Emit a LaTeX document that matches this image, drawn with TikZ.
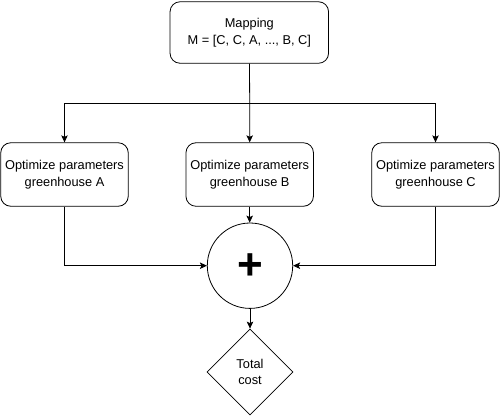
\documentclass[tikz,border=0pt]{standalone}
\usepackage{fontspec}
\setmainfont{Liberation Sans}
\usetikzlibrary{shapes.geometric,arrows.meta}
\begin{document}
\begin{tikzpicture}[x=1pt,y=-1pt,
  every node/.style={font=\fontsize{12.8pt}{16.5pt}\selectfont},
  rbox/.style={draw,rounded corners=10pt,line width=0.8pt,align=center,inner sep=0pt},
  optbox/.style={rbox,minimum width=127.5pt,minimum height=63.5pt},
  conn/.style={line width=0.8pt,-{Stealth[length=7pt,width=6.5pt,inset=1.5pt]}},
  plain/.style={line width=0.8pt}]
\useasboundingbox (0,0) rectangle (500,416);
\node[rbox,minimum width=158.5pt,minimum height=61.5pt] (map) at (249.3,32.5) {Mapping\\M = [C, C, A, ..., B, C]};
\node[optbox] (A) at (64.5,174.5) {Optimize parameters\\greenhouse A};
\node[optbox] (B) at (249.7,174.5) {Optimize parameters\\greenhouse B};
\node[optbox] (C) at (435.5,174.5) {Optimize parameters\\greenhouse C};
\node[draw,circle,line width=0.8pt,minimum size=85.4pt,inner sep=0pt] (sum) at (250,265.7) {};
\node[font=\fontsize{44pt}{44pt}\bfseries\selectfont,inner sep=0pt] (plus) at (250.5,266.5) {+};
\node[draw,diamond,aspect=1,line width=0.8pt,minimum size=86pt,inner sep=0pt,align=center] (tot) at (250,372) {Total\\cost};
\coordinate (split) at (249.5,103.3);
\draw[conn] (map.south -| split) -- (split -| B.north) -- (B.north);
\draw[conn] (split) -| (A.north);
\draw[conn] (split) -| (C.north);
\draw[conn] (A.south) |- (sum.west);
\draw[conn] (C.south) |- (sum.east);
\draw[conn] (B.south) -- (sum.north -| B.south);
\draw[conn] (sum.south) -- (tot.north);
\end{tikzpicture}
\end{document}
